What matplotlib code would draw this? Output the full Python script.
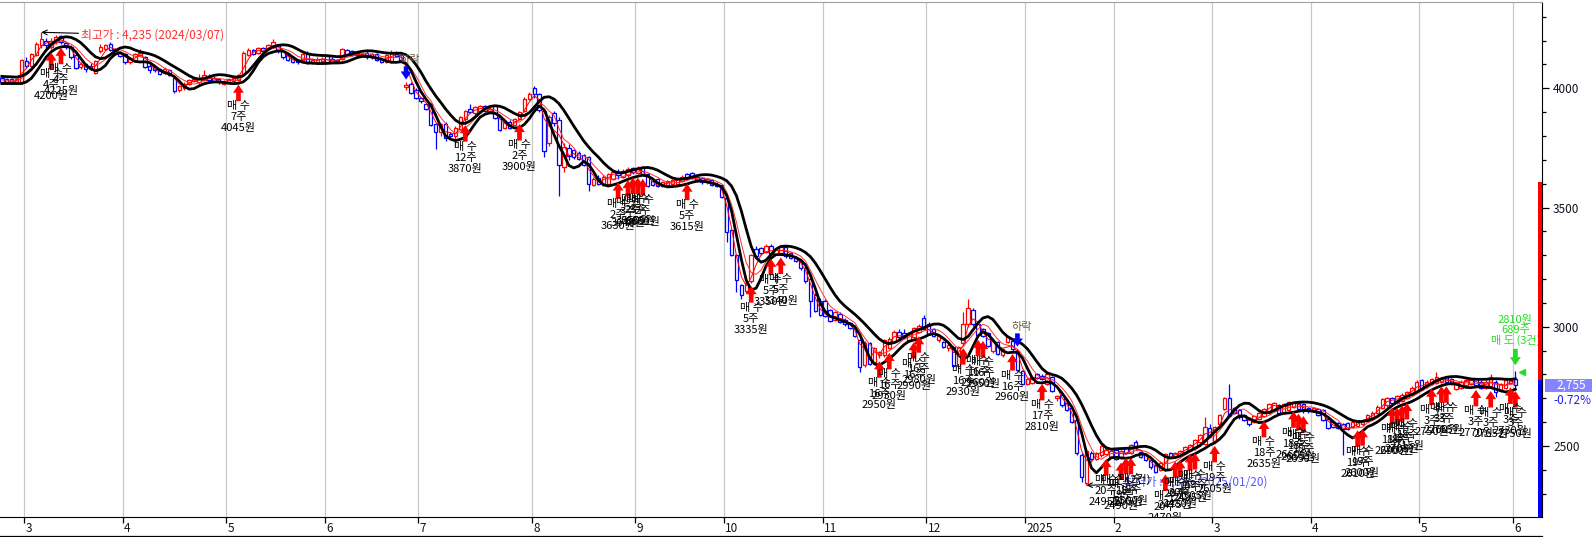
import numpy as np
import pandas as pd
import matplotlib
matplotlib.use("Agg")
import matplotlib.pyplot as plt
from matplotlib.patches import Rectangle
from matplotlib.lines import Line2D
from matplotlib.transforms import blended_transform_factory

plt.rcParams['font.family'] = ['Noto Sans CJK KR', 'DejaVu Sans']

# daily candles (open, high, low, close), one list per month
feb24 = [(4045,4050,4020,4025),(4040,4045,4020,4025),(4040,4045,4020,4028),(4025,4045,4020,4040),(4025,4125,4020,4118)]
mar24 = [(4115,4130,4085,4095),(4095,4150,4090,4145),(4140,4195,4135,4185),(4180,4235,4170,4205),(4200,4210,4170,4180),
         (4175,4210,4165,4200),(4195,4225,4185,4215),(4220,4225,4185,4195),(4190,4195,4165,4175),(4175,4180,4125,4130),
         (4140,4150,4080,4085),(4090,4110,4080,4100),(4100,4105,4070,4080),(4095,4105,4075,4085),(4065,4120,4060,4115),
         (4155,4185,4150,4175),(4165,4185,4160,4180),(4185,4195,4155,4160),(4165,4170,4140,4150),(4150,4155,4130,4135)]
apr24 = [(4145,4150,4100,4110),(4110,4130,4100,4125),(4120,4150,4115,4145),(4140,4165,4135,4150),(4130,4135,4085,4090),
         (4095,4100,4065,4075),(4090,4095,4070,4075),(4080,4085,4055,4060),(4065,4090,4060,4080),(4075,4080,4050,4055),
         (4045,4050,3980,3990),(3995,4015,3985,4010),(4000,4025,3995,4020),(4020,4040,4015,4035),(4030,4045,4025,4040),
         (4025,4060,4020,4045),(4035,4075,4030,4055),(4050,4060,4030,4035),(4045,4050,4025,4030),(4040,4045,4020,4025),
         (4020,4035,4015,4030)]
may24 = [(4025,4045,4020,4040),(4030,4050,4025,4045),(4035,4060,4030,4055),(4060,4155,4055,4150),(4140,4170,4135,4160),
         (4160,4165,4140,4145),(4150,4175,4145,4170),(4170,4175,4150,4155),(4165,4185,4160,4180),(4175,4205,4170,4195),
         (4180,4185,4150,4155),(4155,4160,4125,4130),(4140,4145,4115,4120),(4130,4135,4105,4110),(4120,4125,4100,4110),
         (4120,4150,4115,4145),(4150,4155,4100,4105),(4110,4125,4100,4120),(4110,4130,4105,4125),(4115,4130,4110,4125)]
jun24 = [(4135,4140,4105,4110),(4125,4130,4105,4110),(4120,4125,4105,4115),(4125,4170,4120,4165),(4160,4165,4135,4140),
         (4155,4160,4135,4140),(4150,4155,4135,4140),(4140,4150,4135,4145),(4150,4155,4125,4130),(4145,4150,4125,4130),
         (4145,4150,4115,4120),(4125,4130,4105,4110),(4110,4145,4105,4140),(4110,4160,4105,4150),(4145,4155,4130,4135),
         (4140,4145,4115,4120),(4005,4025,3995,4015),(4020,4025,3975,3980),(3995,4000,3955,3960)]
jul24 = [(3960,3965,3940,3945),(3935,3940,3910,3915),(3935,3940,3840,3845),(3850,3855,3745,3815),(3815,3855,3800,3850),
         (3850,3860,3780,3790),(3810,3815,3790,3800),(3800,3840,3760,3835),(3830,3885,3825,3880),(3870,3910,3860,3905),
         (3915,3935,3895,3900),(3895,3925,3890,3920),(3905,3930,3900,3925),(3925,3930,3900,3905),(3905,3920,3900,3915),
         (3925,3930,3870,3875),(3880,3885,3820,3825),(3835,3865,3830,3860),(3860,3865,3830,3835),(3845,3875,3840,3870),
         (3870,3905,3865,3900),(3905,3965,3900,3955),(3955,3985,3950,3975)]
aug24 = [(4000,4010,3960,3975),(3975,3980,3900,3910),(3905,3910,3710,3735),(3770,3890,3760,3880),(3895,3905,3840,3855),
         (3865,3880,3550,3680),(3670,3770,3650,3755),(3750,3765,3700,3715),(3740,3745,3705,3710),(3730,3735,3700,3705),
         (3720,3725,3675,3680),(3710,3715,3570,3600),(3595,3630,3590,3620),(3625,3635,3595,3600),(3595,3635,3590,3630),
         (3600,3645,3595,3640),(3620,3655,3615,3650),(3650,3660,3620,3635),(3630,3660,3625,3655),(3635,3670,3630,3660),
         (3665,3670,3640,3650)]
sep24 = [(3645,3675,3640,3665),(3670,3675,3635,3640),(3640,3645,3585,3590),(3610,3615,3590,3595),(3620,3625,3585,3590),
         (3590,3610,3585,3605),(3595,3615,3590,3610),(3600,3620,3595,3615),(3600,3625,3595,3620),(3610,3635,3605,3630),
         (3640,3645,3615,3620),(3645,3650,3620,3625),(3630,3635,3605,3610),(3625,3630,3600,3605),(3605,3625,3600,3620),
         (3615,3620,3590,3595),(3600,3605,3585,3590),(3595,3600,3540,3545)]
oct24 = [(3540,3545,3355,3398),(3405,3410,3295,3300),(3300,3305,3145,3195),(3175,3180,3115,3135),(3150,3190,3140,3185),
         (3190,3305,3185,3300),(3325,3340,3290,3295),(3330,3335,3300,3310),(3315,3345,3310,3340),(3340,3345,3300,3305),
         (3305,3325,3300,3320),(3310,3340,3305,3335),(3335,3340,3290,3295),(3310,3315,3285,3290),(3290,3295,3270,3275),
         (3280,3285,3240,3245),(3245,3250,3185,3190),(3200,3205,3040,3110),(3135,3140,3060,3065),(3110,3120,3045,3050)]
nov24 = [(3110,3115,3040,3045),(3070,3075,3020,3025),(3030,3065,3025,3060),(3055,3060,3015,3020),(3030,3035,3005,3010),
         (3015,3020,2990,2995),(2995,3000,2955,2960),(2945,2950,2810,2830),(2840,2940,2830,2930),(2930,2935,2840,2845),
         (2850,2915,2845,2910),(2880,2900,2870,2895),(2880,2950,2875,2945),(2910,2955,2905,2950),(2935,2985,2930,2980),
         (2980,2990,2950,2955),(2975,2990,2950,2955),(2940,2980,2935,2975),(2955,3000,2950,2995),(2980,3010,2975,3005),
         (3035,3050,2985,2990)]
dec24 = [(3010,3020,2965,2970),(2990,2995,2955,2960),(2945,2965,2935,2960),(2935,2940,2910,2915),(2910,2930,2900,2925),
         (2915,2920,2830,2835),(2835,2920,2825,2915),(2930,3060,2925,3010),(3010,3115,3000,3080),(3070,3080,3005,3010),
         (3010,3015,2960,2965),(2990,2995,2955,2960),(2975,2980,2915,2920),(2900,2945,2890,2940),(2935,2940,2880,2885),
         (2880,2910,2875,2905),(2935,2960,2930,2955),(2940,2945,2900,2905),(2900,2905,2815,2820),(2815,2820,2755,2760)]
jan25 = [(2760,2785,2755,2780),(2765,2795,2760,2790),(2800,2805,2780,2785),(2795,2800,2775,2780),(2760,2805,2755,2800),
         (2790,2795,2725,2730),(2700,2715,2690,2710),(2715,2720,2665,2670),(2680,2685,2645,2650),(2660,2665,2595,2600),
         (2610,2615,2460,2470),(2460,2470,2350,2370),(2345,2490,2335,2480),(2470,2480,2440,2445),(2445,2475,2440,2470),
         (2460,2505,2455,2500),(2465,2490,2460,2485),(2455,2485,2450,2480)]
feb25 = [(2485,2490,2440,2445),(2450,2485,2445,2480),(2490,2495,2465,2470),(2470,2510,2465,2505),(2515,2525,2485,2490),
         (2475,2480,2450,2455),(2460,2465,2435,2440),(2440,2445,2405,2410),(2420,2425,2385,2390),(2400,2435,2395,2430),
         (2400,2470,2395,2465),(2470,2475,2450,2455),(2455,2475,2450,2470),(2460,2485,2455,2480),(2470,2500,2465,2495),
         (2485,2510,2480,2505),(2490,2530,2485,2525),(2515,2550,2510,2545),(2510,2620,2505,2580),(2575,2590,2540,2545)]
mar25 = [(2520,2585,2515,2580),(2590,2635,2585,2630),(2655,2705,2650,2700),(2700,2760,2620,2625),(2660,2665,2635,2640),
         (2650,2655,2615,2620),(2630,2635,2605,2610),(2615,2620,2585,2590),(2600,2630,2595,2625),(2615,2645,2610,2640),
         (2625,2660,2620,2655),(2640,2680,2635,2675),(2650,2685,2645,2680),(2670,2675,2635,2640),(2640,2680,2635,2675),
         (2650,2690,2645,2685),(2665,2690,2660,2685),(2680,2685,2650,2655),(2675,2680,2640,2645),(2660,2665,2640,2645)]
apr25 = [(2650,2665,2645,2660),(2655,2660,2625,2630),(2650,2655,2605,2610),(2615,2620,2570,2575),(2600,2605,2575,2580),
         (2595,2600,2570,2575),(2590,2595,2460,2570),(2595,2600,2565,2570),(2580,2605,2575,2600),(2585,2610,2580,2605),
         (2590,2615,2585,2610),(2605,2635,2600,2630),(2615,2645,2610,2640),(2640,2670,2635,2665),(2660,2700,2655,2695),
         (2670,2705,2665,2700),(2700,2705,2675,2680),(2680,2715,2675,2710),(2690,2720,2685,2715),(2700,2730,2695,2725),
         (2715,2750,2710,2745),(2730,2775,2725,2770)]
may25 = [(2775,2780,2735,2740),(2750,2775,2745,2770),(2760,2785,2755,2780),(2765,2810,2760,2790),(2770,2790,2765,2780),
         (2790,2795,2765,2770),(2780,2785,2755,2760),(2740,2770,2735,2765),(2745,2775,2740,2770),(2755,2780,2750,2775),
         (2760,2785,2755,2780),(2780,2785,2750,2755),(2770,2775,2740,2745),(2745,2775,2740,2770),(2750,2800,2745,2790),
         (2770,2775,2705,2725),(2730,2765,2725,2760),(2745,2780,2740,2775),(2765,2785,2760,2775)]
jun25 = [(2780,2815,2745,2755)]

month_data = [feb24, mar24, apr24, may24, jun24, jul24, aug24, sep24, oct24,
              nov24, dec24, jan25, feb25, mar25, apr25, may25, jun25]
month_labels = ["3", "4", "5", "6", "7", "8", "9", "10", "11", "12",
                "2025", "2", "3", "4", "5", "6"]

# buy signals: day index, shares, price
buy_days = [10, 12, 48, 94, 105, 125, 127, 128, 129, 130, 139, 152, 156, 158,
            178, 180, 185, 186, 195, 198, 199, 205, 211, 224, 227, 228, 229,
            236, 238, 239, 241, 242, 246, 256, 262, 263, 264, 275, 276,
            282, 283, 284, 285, 290, 292, 293, 299, 302, 306, 307]
buy_qty = [4, 4, 7, 12, 2, 2, 3, 2, 3, 2, 5, 5, 5, 5, 16, 16, 16, 16, 16, 16,
           16, 16, 17, 20, 19, 18, 18, 20, 20, 20, 20, 19, 19, 18, 18, 18, 18,
           19, 19, 18, 18, 18, 18, 3, 3, 3, 3, 3, 3, 3]
buy_price = [4200, 4225, 4045, 3870, 3900, 3630, 3640, 3650, 3655, 3650, 3615,
             3335, 3350, 3340, 2950, 2930, 2990, 2980, 2930, 2960, 2950, 2960,
             2810, 2495, 2490, 2505, 2500, 2470, 2475, 2480, 2495, 2505, 2605,
             2635, 2660, 2655, 2650, 2610, 2600, 2690, 2700, 2705, 2715, 2750,
             2760, 2755, 2770, 2765, 2730, 2750]
double_buy_day = 228

warn_days = [82, 206]          # blue down signals
sell_day = 307
sell_price = 2810
sell_qty = 689
high_day, low_day = 8, 220

ohlc = np.array([row for m in month_data for row in m], dtype=float)
o, h, l, c = ohlc.T
n = len(o)
x = np.arange(n)
month_len = [len(m) for m in month_data]
month_start = np.cumsum(month_len)[:-1]

W, H = 1592, 537
fig = plt.figure(figsize=(W / 100, H / 100), dpi=100)
ax = fig.add_axes([0, 20 / H, 1542 / W, 515 / H])
ymin, ymax = 2202, 4362
ax.set_xlim(-0.37, 312.4)
ax.set_ylim(ymin, ymax)

# candles
col = np.where(c >= o, '#ff0000', '#0000ff')
ax.vlines(x, l, h, colors=col, lw=0.9, zorder=3)
ax.bar(x, np.abs(c - o), bottom=np.minimum(o, c), width=0.7,
       color='white', edgecolor=col, lw=0.9, zorder=4)

# band lines
upper = pd.Series(h).rolling(5, min_periods=1).mean().rolling(3, min_periods=1).mean()
lower = pd.Series(l).rolling(3, min_periods=1).mean().rolling(3, min_periods=1).mean()
red1 = pd.Series(c).rolling(3, min_periods=1).mean()
red2 = pd.Series((h + l) / 2).rolling(5, min_periods=1).mean()
ax.plot(x, red2, color='#ff3030', lw=0.7, zorder=5)
ax.plot(x, red1, color='#ff0000', lw=0.7, zorder=5)
ax.plot(x, upper, color='black', lw=2.0, zorder=5)
ax.plot(x, lower, color='black', lw=2.0, zorder=5)

arrow_style = 'simple,head_length=0.45,head_width=0.6,tail_width=0.26'

for d, q, p in zip(buy_days, buy_qty, buy_price):
    ax.annotate('', xy=(d, l[d]), xytext=(0, -20), textcoords='offset pixels',
                arrowprops=dict(arrowstyle=arrow_style, fc='#ff0000', ec='none',
                                shrinkA=0, shrinkB=2.5, mutation_scale=13),
                zorder=6)
    head = '매 수 (2건)' if d == double_buy_day else '매 수'
    ax.annotate(f'{head}\n{q}주\n{p}원', xy=(d, l[d]), xytext=(0, -20),
                textcoords='offset pixels', ha='center', va='top',
                fontsize=8, linespacing=1.12, color='black', zorder=7,
                annotation_clip=False, clip_on=True)

for d in warn_days:
    ax.annotate('', xy=(d, h[d]), xytext=(0, 16), textcoords='offset pixels',
                arrowprops=dict(arrowstyle=arrow_style, fc='#0000ff', ec='none',
                                shrinkA=0, shrinkB=2, mutation_scale=13),
                zorder=6)
    ax.annotate('하락', xy=(d, h[d]), xytext=(4, 17), textcoords='offset pixels',
                ha='center', va='bottom', fontsize=8, color='#6e6040', zorder=7)

ax.annotate('', xy=(sell_day, h[sell_day]), xytext=(0, 22), textcoords='offset pixels',
            arrowprops=dict(arrowstyle=arrow_style, fc='#22dd22', ec='none',
                            shrinkA=0, shrinkB=4, mutation_scale=13), zorder=6)
ax.annotate(f'{sell_price}원\n{sell_qty}주\n매 도 (3건)', xy=(sell_day, h[sell_day]),
            xytext=(0, 25), textcoords='offset pixels', ha='center', va='bottom',
            fontsize=8, linespacing=1.0, color='#22dd22', zorder=7,
            annotation_clip=False, clip_on=True)
ax.plot([sell_day + 1.4], [sell_price], marker='<', ms=4, color='#22dd22',
        zorder=7, clip_on=False)

# highest / lowest
ax.annotate(f'최고가 : {h[high_day]:,.0f} (2024/03/07)', xy=(high_day, h[high_day]),
            xytext=(40, -3), textcoords='offset pixels', ha='left', va='center',
            fontsize=8.5, color='#ff3030', zorder=7,
            arrowprops=dict(arrowstyle='->', color='black', lw=0.8, shrinkA=0, shrinkB=0))
ax.annotate(f'최저가 : {l[low_day]:,.0f} (2025/01/20)', xy=(low_day, l[low_day]),
            xytext=(38, 3), textcoords='offset pixels', ha='left', va='center',
            fontsize=8.5, color='#5a5aff', zorder=5.5,
            arrowprops=dict(arrowstyle='->', color='black', lw=0.8, shrinkA=0, shrinkB=0))

# axes styling
grid_x = month_start - 0.5
ax.set_xticks(grid_x)
ax.set_xticklabels([])
ax.grid(axis='x', color='#c8c8c8', lw=0.9, zorder=0)
ax.tick_params(axis='x', length=4, width=0.9, direction='out')
tb = blended_transform_factory(ax.transData, ax.transAxes)
for gx, lab in zip(grid_x, month_labels):
    ax.text(gx + 0.25, -0.01, lab, transform=tb, ha='left', va='top',
            fontsize=8.5, color='#101020')

ax.yaxis.tick_right()
ax.set_yticks([2500, 3000, 3500, 4000])
ax.set_yticks(np.arange(2300, 4400, 100), minor=True)
ax.tick_params(axis='y', which='major', length=5, width=0.9, pad=3,
               labelsize=8.5, labelcolor='#101020')
ax.tick_params(axis='y', which='minor', length=3, width=0.9)
ax.spines['left'].set_visible(False)
ax.spines['top'].set_color('#a0a0a0')
ax.spines['right'].set_color('black')
ax.spines['bottom'].set_color('black')

# holding bar on the price axis
ta = blended_transform_factory(ax.transAxes, ax.transData)
last = c[-1]
ax.add_patch(Rectangle((1 - 4 / 1542, last + 20), 4 / 1542, 3605 - last - 20,
                       transform=ta, fc='#ff0000', ec='none', clip_on=False, zorder=8))
ax.add_patch(Rectangle((1 - 4 / 1542, ymin), 4 / 1542, last + 20 - ymin,
                       transform=ta, fc='#0000ff', ec='none', clip_on=False, zorder=8))

# last price box
won_per_px = (ymax - ymin) / 515
ax.add_patch(Rectangle((1 + 3 / 1542, last - 6.5 * won_per_px), 47 / 1542, 13 * won_per_px,
                       transform=ta, fc='#8585ff', ec='none', clip_on=False, zorder=8))
prev = c[-2]
ax.text(1 + 44 / 1542, last, f'{last:,.0f}', transform=ta, ha='right', va='center',
        fontsize=8.5, color='white', zorder=9)
ax.text(1 + 49 / 1542, last - 15 * won_per_px, f'{(last - prev) / prev * 100:.2f}%',
        transform=ta, ha='right', va='center', fontsize=8.5, color='#2020ee', zorder=9)

fig.add_artist(Line2D([0, 1542 / W], [1.5 / H, 1.5 / H], color='black', lw=0.9))

fig.savefig('out.png', dpi=100, facecolor='white')
